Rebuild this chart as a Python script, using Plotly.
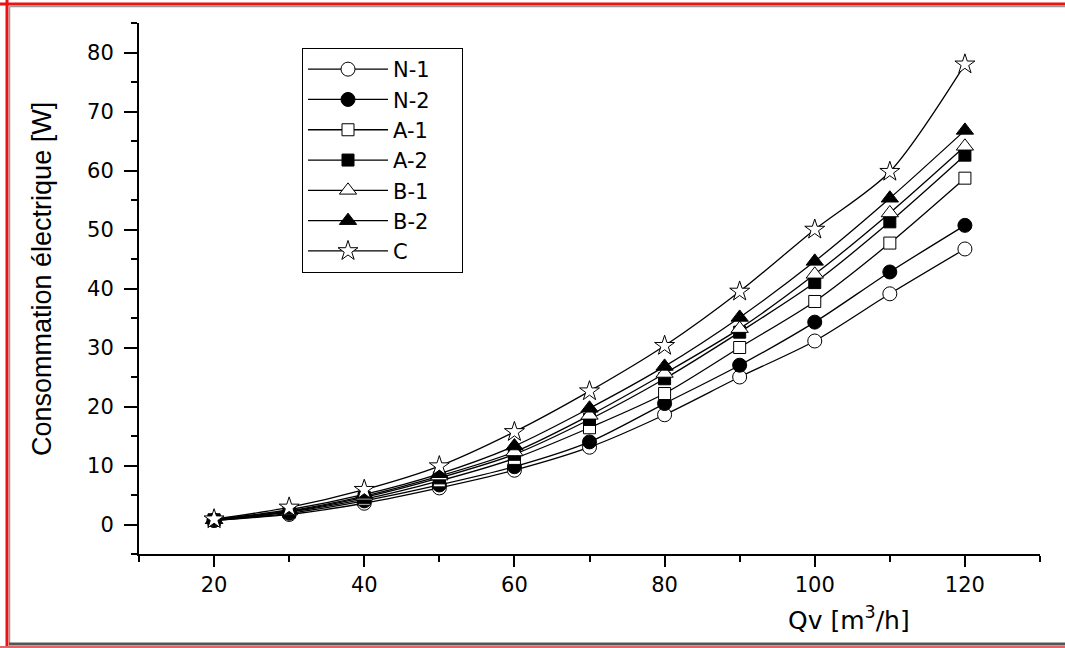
import plotly.graph_objects as go

qv = [20, 30, 40, 50, 60, 70, 80, 90, 100, 110, 120]
n1 = [0.7, 1.7, 3.6, 6.2, 9.2, 13.1, 18.6, 25.0, 31.1, 39.1, 46.7]
n2 = [0.7, 1.9, 4.0, 6.7, 9.8, 14.0, 20.5, 27.0, 34.3, 42.8, 50.7]
a1 = [0.7, 2.1, 4.3, 7.4, 11.2, 16.4, 22.2, 30.0, 37.8, 47.7, 58.7]
a2 = [0.8, 2.2, 4.6, 7.9, 11.9, 17.8, 24.7, 32.6, 41.0, 51.3, 62.6]
b1 = [0.8, 2.3, 4.8, 8.2, 12.3, 18.5, 25.6, 33.2, 42.4, 52.8, 64.1]
b2 = [0.8, 2.5, 5.1, 8.6, 13.3, 19.7, 26.8, 35.1, 44.6, 55.3, 66.8]
c = [0.9, 2.9, 5.9, 9.9, 15.7, 22.6, 30.3, 39.5, 50.0, 59.8, 78.0]

series_names = ["N-1", "N-2", "A-1", "A-2", "B-1", "B-2", "C"]
series_values = [n1, n2, a1, a2, b1, b2, c]
symbols = ["circle", "circle", "square", "square", "triangle-up", "triangle-up", "star"]
fills = ["white", "black", "white", "black", "white", "black", "white"]
sizes = [14, 14, 12, 12, 15, 15, 15]

W, H = 1065, 648
L, R, T, B = 139, 25, 23, 94
pw, ph = W - L - R, H - T - B

def px(x):
    return (x - L) / pw

def py(y):
    return (H - B - y) / ph

pad = "\u00a0" * 4

fig = go.Figure()
for name, vals, sym, fc, sz in zip(series_names, series_values, symbols, fills, sizes):
    fig.add_trace(go.Scatter(
        x=qv, y=vals, name=name + pad, mode="lines+markers",
        line=dict(color="black", width=1.3, shape="spline", smoothing=0.8),
        marker=dict(symbol=sym, size=sz, color=fc, line=dict(color="black", width=1)),
    ))

tickfont = dict(family="DejaVu Sans", size=21, color="black")

fig.update_layout(
    width=W, height=H,
    margin=dict(l=L, r=R, t=T, b=B),
    paper_bgcolor="white", plot_bgcolor="white",
    showlegend=True,
    legend=dict(
        x=px(302), y=py(48), xanchor="left", yanchor="top",
        bordercolor="black", borderwidth=1, bgcolor="white",
        font=dict(family="DejaVu Sans", size=21, color="black"),
        itemwidth=80, tracegroupgap=0,
    ),
    xaxis=dict(
        range=[10, 130], showgrid=False, zeroline=False,
        showline=True, linecolor="black", linewidth=2,
        ticks="outside", tickcolor="black", tickwidth=2, ticklen=11,
        tick0=20, dtick=20, tickfont=tickfont, ticklabelstandoff=0,
        minor=dict(ticks="outside", tick0=10, dtick=10, ticklen=6, tickwidth=2, tickcolor="black"),
    ),
    yaxis=dict(
        range=[-5, 85], showgrid=False, zeroline=False,
        showline=True, linecolor="black", linewidth=2,
        ticks="outside", tickcolor="black", tickwidth=2, ticklen=13,
        tick0=0, dtick=10, tickfont=tickfont, ticklabelstandoff=6,
        minor=dict(ticks="outside", tick0=5, dtick=5, ticklen=6, tickwidth=2, tickcolor="black"),
    ),
    annotations=[
        dict(text="Consommation électrique [W]", xref="paper", yref="paper",
             x=px(42), y=py(279), textangle=-90, showarrow=False,
             xanchor="center", yanchor="middle",
             font=dict(family="Liberation Sans", size=27, color="black")),
        dict(text="Qv [m<sup>3</sup>/h]", xref="paper", yref="paper",
             x=px(849), y=py(618), showarrow=False,
             xanchor="center", yanchor="middle",
             font=dict(family="DejaVu Sans", size=25, color="black")),
    ],
    shapes=[
        dict(type="line", xref="paper", yref="paper", x0=px(0), x1=px(W), y0=py(4), y1=py(4),
             line=dict(color="#ee1111", width=3)),
        dict(type="line", xref="paper", yref="paper", x0=px(7), x1=px(7), y0=py(0), y1=py(H),
             line=dict(color="#ee1111", width=3)),
        dict(type="line", xref="paper", yref="paper", x0=px(9.5), x1=px(W), y0=py(6.5), y1=py(6.5),
             line=dict(color="#999999", width=1.5)),
        dict(type="line", xref="paper", yref="paper", x0=px(9.5), x1=px(9.5), y0=py(6.5), y1=py(643),
             line=dict(color="#999999", width=1.5)),
        dict(type="line", xref="paper", yref="paper", x0=px(9), x1=px(W), y0=py(644), y1=py(644),
             line=dict(color="#555555", width=3)),
        dict(type="line", xref="paper", yref="paper", x0=px(0), x1=px(W), y0=py(647), y1=py(647),
             line=dict(color="#dd6666", width=2)),
    ],
)

fig.write_html("out.html")
